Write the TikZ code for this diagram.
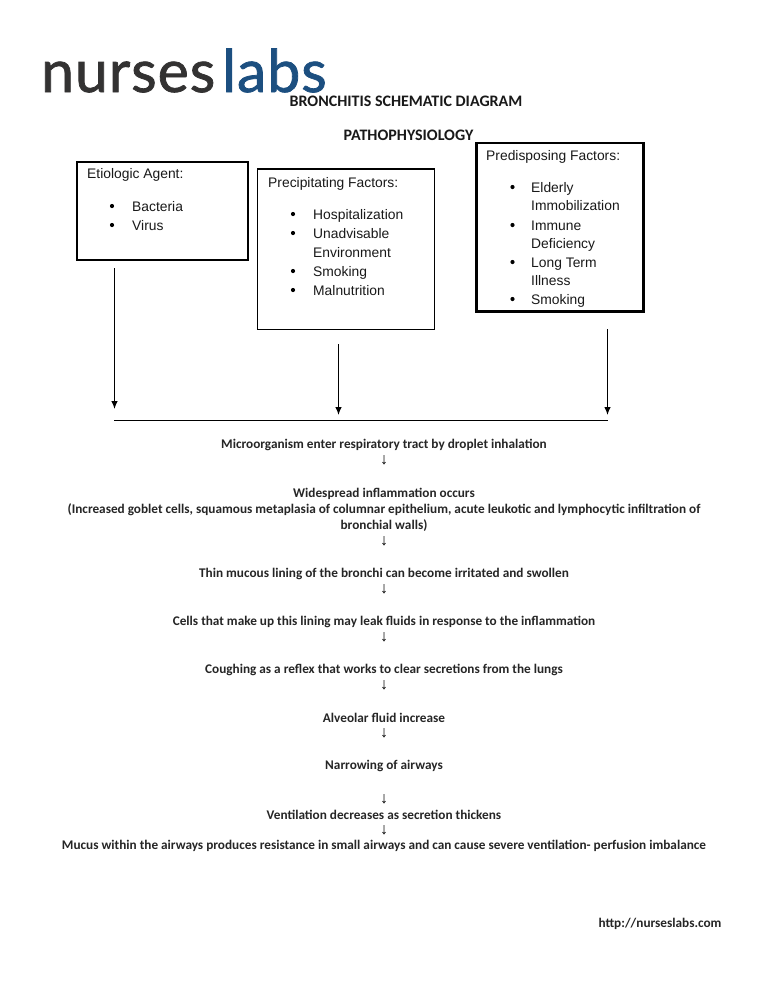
\documentclass[tikz,border=0pt]{standalone}
\usepackage{fontspec}
\setmainfont{Carlito}
\newfontfamily\arialf{Liberation Sans}
\newfontfamily\logof[FakeBold=1.3,LetterSpace=1.6]{Lato}
\definecolor{logodark}{HTML}{333232}
\definecolor{logoblue}{HTML}{1C4F80}
\usetikzlibrary{arrows.meta}
\tikzset{
  flowtext/.style={anchor=center,inner sep=0pt,font=\bfseries\fontsize{13.25}{15}\selectfont,text=black!85},
  titletext/.style={anchor=center,inner sep=0pt,font=\bfseries\fontsize{16}{18}\selectfont,text=black!90},
  flowarrow/.style={anchor=center,inner sep=0pt,font=\arialf\fontsize{16}{16}\selectfont,text=black},
  factorbox/.style={draw=black,fill=white,line width=2pt,minimum width=0pt},
  boxtext/.style={anchor=base west,inner sep=0pt,font=\arialf\fontsize{13.85}{16}\selectfont,text=black!90},
  bulletmark/.style={circle,fill=black,inner sep=0pt,minimum size=4.2pt},
  feed/.style={draw=black,line width=1.1pt,-{Latex[length=8pt,width=6.5pt]}},
  logotext/.style={anchor=base west,inner sep=0pt,font=\logof\fontsize{59}{59}\selectfont},
}
\begin{document}
\begin{tikzpicture}[x=1pt,y=-1pt]
\useasboundingbox[fill=white] (0,0) rectangle (768,994);
% logo
\node[logotext,text=logodark] (logoa) at (41,92) {nurses};
\node[logotext,text=logoblue] (logob) at (222,92) {labs};
% titles
\node[titletext] (title) at (406,101.5) {BRONCHITIS SCHEMATIC DIAGRAM};
\node[titletext] (sub) at (408.5,135.5) {PATHOPHYSIOLOGY};
% boxes
\node[factorbox,anchor=north west,minimum width=171pt,minimum height=98.5pt,inner sep=0pt] (b1) at (75.5,160.5) {};
\node[factorbox,anchor=north west,minimum width=177pt,minimum height=160.5pt,inner sep=0pt,line width=1.8pt] (b2) at (256.5,168) {};
\node[factorbox,anchor=north west,minimum width=167pt,minimum height=168.5pt,inner sep=0pt,line width=2.6pt] (b3) at (475,141.5) {};
% box 1 text
\node[boxtext] (t1) at (87,178) {Etiologic Agent:};
\node[bulletmark] (d11) at (112,206) {}; \node[boxtext] (t11) at (132,211) {Bacteria};
\node[bulletmark] (d12) at (112,225) {}; \node[boxtext] (t12) at (132,230) {Virus};
% box 2 text
\node[boxtext] (t2) at (268,187) {Precipitating Factors:};
\node[bulletmark] (d21) at (293,214) {}; \node[boxtext] (t21) at (313,219) {Hospitalization};
\node[bulletmark] (d22) at (293,233) {}; \node[boxtext] (t22) at (313,238) {Unadvisable};
\node[boxtext] (t22b) at (313,257) {Environment};
\node[bulletmark] (d23) at (293,271) {}; \node[boxtext] (t23) at (313,276) {Smoking};
\node[bulletmark] (d24) at (293,290) {}; \node[boxtext] (t24) at (313,295) {Malnutrition};
% box 3 text
\node[boxtext] (t3) at (486,160.5) {Predisposing Factors:};
\node[bulletmark] (d31) at (512.5,187) {}; \node[boxtext] (t31) at (531,192) {Elderly};
\node[boxtext] (t31b) at (531,210) {Immobilization};
\node[bulletmark] (d32) at (512.5,225) {}; \node[boxtext] (t32) at (531,230) {Immune};
\node[boxtext] (t32b) at (531,248) {Deficiency};
\node[bulletmark] (d33) at (512.5,262) {}; \node[boxtext] (t33) at (531,267) {Long Term};
\node[boxtext] (t33b) at (531,285) {Illness};
\node[bulletmark] (d34) at (512.5,299) {}; \node[boxtext] (t34) at (531,304) {Smoking};
% feeds
\coordinate (a1s) at (114.5,268); \coordinate (a1e) at (114.5,409);
\coordinate (a2s) at (338.5,344); \coordinate (a2e) at (338.5,415);
\coordinate (a3s) at (607.5,329); \coordinate (a3e) at (607.5,415);
\draw[feed] (a1s) -- (a1e);
\draw[feed] (a2s) -- (a2e);
\draw[feed] (a3s) -- (a3e);
\coordinate (ls) at (114,420.5); \coordinate (le) at (608,420.5);
\draw[black,line width=1.1pt] (ls) -- (le);
% flow
\node[flowtext] (f1) at (384,444.5) {Microorganism enter respiratory tract by droplet inhalation};
\node[flowarrow] (r1) at (384,460) {↓};
\node[flowtext] (f2) at (384,493.5) {Widespread inflammation occurs};
\node[flowtext] (f2b) at (384,509.5) {(Increased goblet cells, squamous metaplasia of columnar epithelium, acute leukotic and lymphocytic infiltration of};
\node[flowtext] (f2c) at (384,526) {bronchial walls)};
\node[flowarrow] (r2) at (384,541) {↓};
\node[flowtext] (f3) at (384,574) {Thin mucous lining of the bronchi can become irritated and swollen};
\node[flowarrow] (r3) at (384,589) {↓};
\node[flowtext] (f4) at (384,622) {Cells that make up this lining may leak fluids in response to the inflammation};
\node[flowarrow] (r4) at (384,637) {↓};
\node[flowtext] (f5) at (384,669.5) {Coughing as a reflex that works to clear secretions from the lungs};
\node[flowarrow] (r5) at (384,685) {↓};
\node[flowtext] (f6) at (384,717.5) {Alveolar fluid increase};
\node[flowarrow] (r6) at (384,733) {↓};
\node[flowtext] (f7) at (384,766) {Narrowing of airways};
\node[flowarrow] (r7) at (384,799) {↓};
\node[flowtext] (f8) at (384,815) {Ventilation decreases as secretion thickens};
\node[flowarrow] (r8) at (384,830) {↓};
\node[flowtext] (f9) at (384,846) {Mucus within the airways produces resistance in small airways and can cause severe ventilation- perfusion imbalance};
\node[flowtext] (url) at (660,924) {http://nurseslabs.com};
\end{tikzpicture}
\end{document}
